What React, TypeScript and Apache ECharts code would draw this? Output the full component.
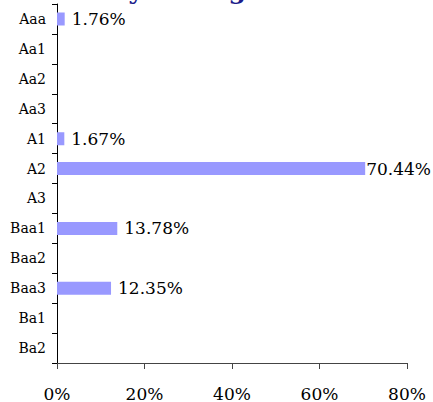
import React, { useEffect, useRef } from "react";
import * as echarts from "echarts";

const categories = ["Aaa", "Aa1", "Aa2", "Aa3", "A1", "A2", "A3", "Baa1", "Baa2", "Baa3", "Ba1", "Ba2"];
const values = [1.76, 0, 0, 0, 1.67, 70.44, 0, 13.78, 0, 12.35, 0, 0];
const xTicks = [0, 20, 40, 60, 80];
const title = "Portfolio by Rating";

const FONT = "'DejaVu Serif', serif";

export default function App() {
  const ref = useRef<HTMLDivElement>(null);
  useEffect(() => {
    if (!ref.current) return;
    const chart = echarts.init(ref.current, null, { renderer: "svg" });
    const data = values.map((v) =>
      v > 65 ? { value: v, label: { distance: 1 } } : { value: v }
    );
    chart.setOption({
      animation: false,
      textStyle: { fontFamily: FONT },
      graphic: [
        {
          type: "text",
          x: 246,
          y: 3,
          style: {
            text: title,
            align: "right",
            verticalAlign: "bottom",
            font: "bold 25px " + FONT,
            fill: "#1c1c8a",
          },
        },
      ],
      grid: { left: 57, right: 26, top: 4, bottom: 37, containLabel: false },
      xAxis: {
        type: "value",
        min: xTicks[0],
        max: xTicks[xTicks.length - 1],
        interval: 20,
        axisLine: { show: true, lineStyle: { color: "#444", width: 1 } },
        axisTick: { show: true, length: 6, lineStyle: { color: "#444" } },
        splitLine: { show: false },
        axisLabel: {
          formatter: "{value}%",
          color: "#000",
          fontSize: 17,
          fontFamily: FONT,
          margin: 22,
        },
      },
      yAxis: {
        type: "category",
        data: categories,
        inverse: true,
        axisLine: { show: true, lineStyle: { color: "#000", width: 1 } },
        axisTick: { show: true, length: 5, alignWithLabel: false, lineStyle: { color: "#000" } },
        axisLabel: { color: "#000", fontSize: 14, fontFamily: FONT, margin: 11 },
        splitLine: { show: false },
      },
      series: [
        {
          type: "bar",
          data,
          barWidth: 13,
          itemStyle: { color: "#9999ff" },
          label: {
            show: true,
            position: "right",
            distance: 7,
            color: "#000",
            fontSize: 17,
            fontFamily: FONT,
            formatter: (p: any) => (p.value > 0 ? p.value.toFixed(2) + "%" : ""),
          },
        },
      ],
    });
    return () => chart.dispose();
  }, []);
  return <div ref={ref} style={{ width: 433, height: 402, position: "absolute", left: 0, top: 0 }} />;
}
